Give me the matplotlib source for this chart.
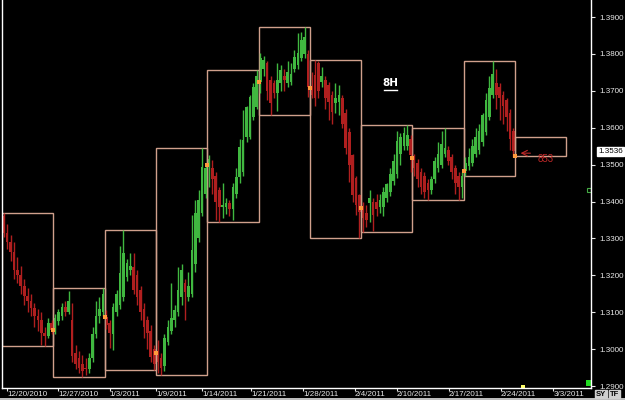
import matplotlib
matplotlib.use('Agg')
import matplotlib.pyplot as plt
from matplotlib.patches import Rectangle

# 8H EUR/USD bars, 15 bars per week (10 weeks)
opens = [
    1.3360, 1.3315, 1.3290, 1.3262, 1.3215, 1.3200, 1.3172, 1.3145, 1.3130, 1.3112, 1.3090, 1.3078, 1.3045, 1.3035, 1.3072,
    1.3052, 1.3075, 1.3090, 1.3115, 1.3100, 1.3080, 1.2990, 1.2975, 1.2960, 1.2950, 1.2945, 1.2975, 1.3040, 1.3090, 1.3100,
    1.3087, 1.3070, 1.3040, 1.3100, 1.3120, 1.3141, 1.3195, 1.3215, 1.3222, 1.3200, 1.3160, 1.3110, 1.3080, 1.3050, 1.3000,
    1.2990, 1.2975, 1.2955, 1.3020, 1.3050, 1.3080, 1.3100, 1.3140, 1.3180, 1.3140, 1.3150, 1.3230, 1.3300, 1.3370, 1.3420,
    1.3500, 1.3490, 1.3470, 1.3430, 1.3385, 1.3385, 1.3395, 1.3380, 1.3420, 1.3466, 1.3480, 1.3575, 1.3575, 1.3629, 1.3656,
    1.3725, 1.3760, 1.3775, 1.3730, 1.3720, 1.3694, 1.3720, 1.3740, 1.3720, 1.3725, 1.3760, 1.3770, 1.3790, 1.3800, 1.3800,
    1.3708, 1.3743, 1.3775, 1.3724, 1.3730, 1.3716, 1.3690, 1.3667, 1.3670, 1.3680, 1.3640, 1.3588, 1.3526, 1.3464, 1.3418,
    1.3382, 1.3370, 1.3395, 1.3399, 1.3400, 1.3385, 1.3385, 1.3410, 1.3425, 1.3455, 1.3475, 1.3530, 1.3550, 1.3550, 1.3570,
    1.3518, 1.3505, 1.3480, 1.3470, 1.3450, 1.3430, 1.3460, 1.3490, 1.3500, 1.3530, 1.3540, 1.3520, 1.3490, 1.3470, 1.3440,
    1.3483, 1.3495, 1.3505, 1.3530, 1.3540, 1.3561, 1.3588, 1.3630, 1.3690, 1.3720, 1.3710, 1.3690, 1.3675, 1.3640, 1.3590,
]
highs = [
    1.3369, 1.3340, 1.3310, 1.3290, 1.3250, 1.3225, 1.3190, 1.3165, 1.3150, 1.3125, 1.3110, 1.3100, 1.3060, 1.3085, 1.3080,
    1.3095, 1.3110, 1.3125, 1.3130, 1.3157, 1.3125, 1.3010, 1.2995, 1.2985, 1.2975, 1.2990, 1.3060, 1.3130, 1.3140, 1.3166,
    1.3105, 1.3080, 1.3125, 1.3160, 1.3280, 1.3323, 1.3245, 1.3260, 1.3260, 1.3215, 1.3170, 1.3125, 1.3090, 1.3065, 1.3010,
    1.3025, 1.2990, 1.3040, 1.3080, 1.3180, 1.3120, 1.3222, 1.3230, 1.3190, 1.3210, 1.3363, 1.3404, 1.3431, 1.3545, 1.3500,
    1.3525, 1.3512, 1.3480, 1.3440, 1.3450, 1.3410, 1.3405, 1.3450, 1.3490, 1.3570, 1.3648, 1.3660, 1.3690, 1.3720, 1.3756,
    1.3802, 1.3795, 1.3780, 1.3740, 1.3730, 1.3775, 1.3770, 1.3760, 1.3780, 1.3775, 1.3810, 1.3857, 1.3860, 1.3873, 1.3810,
    1.3751, 1.3783, 1.3780, 1.3765, 1.3740, 1.3725, 1.3700, 1.3720, 1.3716, 1.3690, 1.3650, 1.3600, 1.3530, 1.3470, 1.3420,
    1.3400, 1.3390, 1.3431, 1.3410, 1.3420, 1.3420, 1.3440, 1.3450, 1.3490, 1.3530, 1.3591, 1.3585, 1.3602, 1.3607, 1.3580,
    1.3530, 1.3515, 1.3490, 1.3480, 1.3460, 1.3470, 1.3520, 1.3560, 1.3590, 1.3599, 1.3550, 1.3530, 1.3500, 1.3480, 1.3480,
    1.3520, 1.3545, 1.3570, 1.3600, 1.3610, 1.3640, 1.3695, 1.3740, 1.3781, 1.3760, 1.3720, 1.3700, 1.3680, 1.3650, 1.3600,
]
lows = [
    1.3305, 1.3270, 1.3240, 1.3190, 1.3180, 1.3150, 1.3120, 1.3100, 1.3090, 1.3060, 1.3050, 1.3010, 1.3008, 1.3030, 1.3040,
    1.3040, 1.3065, 1.3080, 1.3090, 1.3095, 1.2965, 1.2945, 1.2935, 1.2924, 1.2930, 1.2935, 1.2965, 1.3030, 1.3070, 1.3090,
    1.3055, 1.3003, 1.2998, 1.3090, 1.3110, 1.3130, 1.3185, 1.3200, 1.3150, 1.3120, 1.3080, 1.3030, 1.3000, 1.2965, 1.2943,
    1.2935, 1.2930, 1.2940, 1.3010, 1.3040, 1.3060, 1.3090, 1.3120, 1.3079, 1.3130, 1.3140, 1.3210, 1.3290, 1.3360, 1.3410,
    1.3440, 1.3420, 1.3350, 1.3344, 1.3355, 1.3365, 1.3360, 1.3350, 1.3410, 1.3450, 1.3470, 1.3560, 1.3570, 1.3620, 1.3650,
    1.3694, 1.3740, 1.3675, 1.3634, 1.3680, 1.3645, 1.3700, 1.3700, 1.3710, 1.3715, 1.3750, 1.3760, 1.3780, 1.3790, 1.3683,
    1.3680, 1.3660, 1.3680, 1.3710, 1.3650, 1.3620, 1.3610, 1.3640, 1.3635, 1.3600, 1.3530, 1.3453, 1.3400, 1.3363, 1.3301,
    1.3317, 1.3330, 1.3345, 1.3320, 1.3360, 1.3370, 1.3360, 1.3400, 1.3415, 1.3445, 1.3465, 1.3500, 1.3540, 1.3540, 1.3480,
    1.3470, 1.3440, 1.3420, 1.3410, 1.3404, 1.3420, 1.3450, 1.3480, 1.3490, 1.3520, 1.3500, 1.3460, 1.3420, 1.3404, 1.3410,
    1.3469, 1.3485, 1.3495, 1.3520, 1.3530, 1.3550, 1.3580, 1.3620, 1.3680, 1.3650, 1.3620, 1.3610, 1.3590, 1.3540, 1.3520,
]
closes = [
    1.3315, 1.3290, 1.3262, 1.3215, 1.3200, 1.3172, 1.3145, 1.3130, 1.3112, 1.3090, 1.3078, 1.3045, 1.3035, 1.3072, 1.3052,
    1.3085, 1.3100, 1.3115, 1.3100, 1.3130, 1.2980, 1.2960, 1.2950, 1.2940, 1.2945, 1.2975, 1.3040, 1.3090, 1.3110, 1.3150,
    1.3065, 1.3044, 1.3114, 1.3150, 1.3206, 1.3260, 1.3233, 1.3225, 1.3160, 1.3140, 1.3100, 1.3060, 1.3044, 1.2979, 1.2960,
    1.2965, 1.2950, 1.3030, 1.3060, 1.3085, 1.3106, 1.3160, 1.3214, 1.3155, 1.3170, 1.3269, 1.3369, 1.3404, 1.3493, 1.3490,
    1.3515, 1.3460, 1.3400, 1.3385, 1.3390, 1.3395, 1.3380, 1.3440, 1.3466, 1.3548, 1.3567, 1.3656, 1.3683, 1.3710, 1.3740,
    1.3790, 1.3783, 1.3700, 1.3667, 1.3694, 1.3729, 1.3756, 1.3730, 1.3750, 1.3745, 1.3792, 1.3802, 1.3838, 1.3846, 1.3710,
    1.3690, 1.3680, 1.3700, 1.3740, 1.3680, 1.3670, 1.3643, 1.3680, 1.3690, 1.3610, 1.3545, 1.3499, 1.3418, 1.3391, 1.3372,
    1.3356, 1.3350, 1.3410, 1.3364, 1.3380, 1.3405, 1.3426, 1.3447, 1.3475, 1.3510, 1.3564, 1.3575, 1.3586, 1.3580, 1.3525,
    1.3490, 1.3460, 1.3440, 1.3425, 1.3430, 1.3460, 1.3510, 1.3530, 1.3555, 1.3545, 1.3510, 1.3480, 1.3450, 1.3440, 1.3470,
    1.3505, 1.3520, 1.3550, 1.3575, 1.3590, 1.3634, 1.3675, 1.3708, 1.3745, 1.3690, 1.3680, 1.3660, 1.3630, 1.3570, 1.3536,
]

bars_per_week = 15

# next week's projected range box
next_open = 1.3524
proj_high = 1.3575
proj_low = 1.3524
range_label = '853'
last_price = 1.3536

date_labels = ['12/20/2010', '12/27/2010', '1/3/2011', '1/9/2011', '1/14/2011', '1/21/2011',
               '1/28/2011', '2/4/2011', '2/10/2011', '2/17/2011', '2/24/2011', '3/3/2011']
date_bars = [1, 16, 31, 44.5, 58, 72.3, 87.5, 102.7, 115, 130.2, 145.4, 160.7]
price_ticks = [1.29, 1.30, 1.31, 1.32, 1.33, 1.34, 1.35, 1.36, 1.37, 1.38, 1.39]


def main():
    fig = plt.figure(figsize=(6.25, 4), dpi=100, facecolor='black')
    ax = fig.add_axes([2 / 625, 12 / 400, 589 / 625, 388 / 400])
    ax.set_facecolor('black')

    up_col = '#40b840'
    dn_col = '#b01f1f'
    box_col = '#d0a08c'

    # candles
    for i in range(len(closes)):
        o, h, l, c = opens[i], highs[i], lows[i], closes[i]
        col = up_col if c >= o else dn_col
        ax.vlines(i, l, h, color=col, linewidth=1.0)
        ax.bar(i, abs(c - o) if abs(c - o) > 0.0003 else 0.0003, bottom=min(o, c),
               width=0.78, color=col, linewidth=0)

    # weekly high/low boxes and week open markers
    n_weeks = len(closes) // bars_per_week
    for k in range(n_weeks):
        s = k * bars_per_week
        e = s + bars_per_week
        hi = max(highs[s:e])
        lo = min(lows[s:e])
        ax.add_patch(Rectangle((s - 0.5, lo), bars_per_week, hi - lo,
                               fill=False, edgecolor=box_col, linewidth=1.0))
        if k > 0:
            ax.plot(s - 0.5, opens[s], 's', color='#ff9a3c', markersize=3, markeredgewidth=0)

    end = n_weeks * bars_per_week - 0.5
    ax.add_patch(Rectangle((end, proj_low), bars_per_week, proj_high - proj_low,
                           fill=False, edgecolor=box_col, linewidth=1.0))
    ax.plot(end, next_open, 's', color='#ff9a3c', markersize=3, markeredgewidth=0)

    # arrow + range text
    ax.annotate('', xy=(end + 0.8, 1.3531), xytext=(end + 5.3, 1.3531),
                arrowprops=dict(arrowstyle='->', color='#c02828', lw=0.8))
    ax.text(end + 6.5, 1.3516, range_label, color='#c02828', fontsize=7,
            family='Liberation Sans', va='center', ha='left')

    # timeframe label, underlined
    ax.text(113.1, 1.3720, '8H', color='white', fontsize=7.5, fontweight='bold',
            family='DejaVu Sans', ha='center', va='center')
    ax.plot([111.3, 115.0], [1.3701, 1.3701], color='white', linewidth=1.0)

    # axes limits, frame
    ax.set_xlim(-0.5, 171.7)
    ax.set_ylim(1.28946, 1.39461)
    ax.spines['top'].set_visible(False)
    for side in ['left', 'right', 'bottom']:
        ax.spines[side].set_color('white')
        ax.spines[side].set_linewidth(1.0)

    ax.yaxis.tick_right()
    ax.set_yticks(price_ticks)
    ax.set_yticklabels([f'{p:.4f}' for p in price_ticks])
    ax.tick_params(axis='y', colors='#e8e8e8', labelsize=5.8, length=3, pad=3, width=0.8)

    ax.set_xticks(date_bars)
    ax.set_xticklabels(date_labels)
    ax.tick_params(axis='x', colors='#e8e8e8', labelsize=5.8, length=2, pad=0.3, width=0.8)
    for lab in ax.get_xticklabels() + ax.get_yticklabels():
        lab.set_family('Liberation Sans')
    for lab in ax.get_xticklabels():
        lab.set_ha('left')

    # last price box
    ax.annotate(f'{last_price:.4f}', xy=(1.012, last_price), xycoords=('axes fraction', 'data'),
                fontsize=5.8, family='Liberation Sans', color='black', va='center', ha='left',
                bbox=dict(boxstyle='square,pad=0.15', fc='white', ec='white'),
                annotation_clip=False)

    # small markers on the axes
    ax.plot(171.0, 1.2907, 's', color='#22dd22', markersize=5, markeredgewidth=0, clip_on=False)
    ax.plot(151.8, 1.2896, 's', color='#ffff66', markersize=2.5, markeredgewidth=0, clip_on=False)
    ax.plot(171.0, 1.3431, 's', color='black', markeredgecolor='#44aa44', markersize=3.5,
            markeredgewidth=0.8)

    # SY / TF buttons
    for x0, t in [(596 / 625, 'SY'), (610 / 625, 'TF')]:
        fig.text(x0, 6 / 400, t, fontsize=5.5, color='black', family='Liberation Sans',
                 fontweight='bold', va='center', ha='left',
                 bbox=dict(boxstyle='square,pad=0.12', fc='#cfcfcf', ec='#cfcfcf'))
    fig.patches.append(Rectangle((0, 0), 1, 2 / 400, transform=fig.transFigure,
                                 facecolor='#bdbdbd', edgecolor='none'))

    fig.savefig('out.png', dpi=100, facecolor='black')


if __name__ == "__main__":
    main()
